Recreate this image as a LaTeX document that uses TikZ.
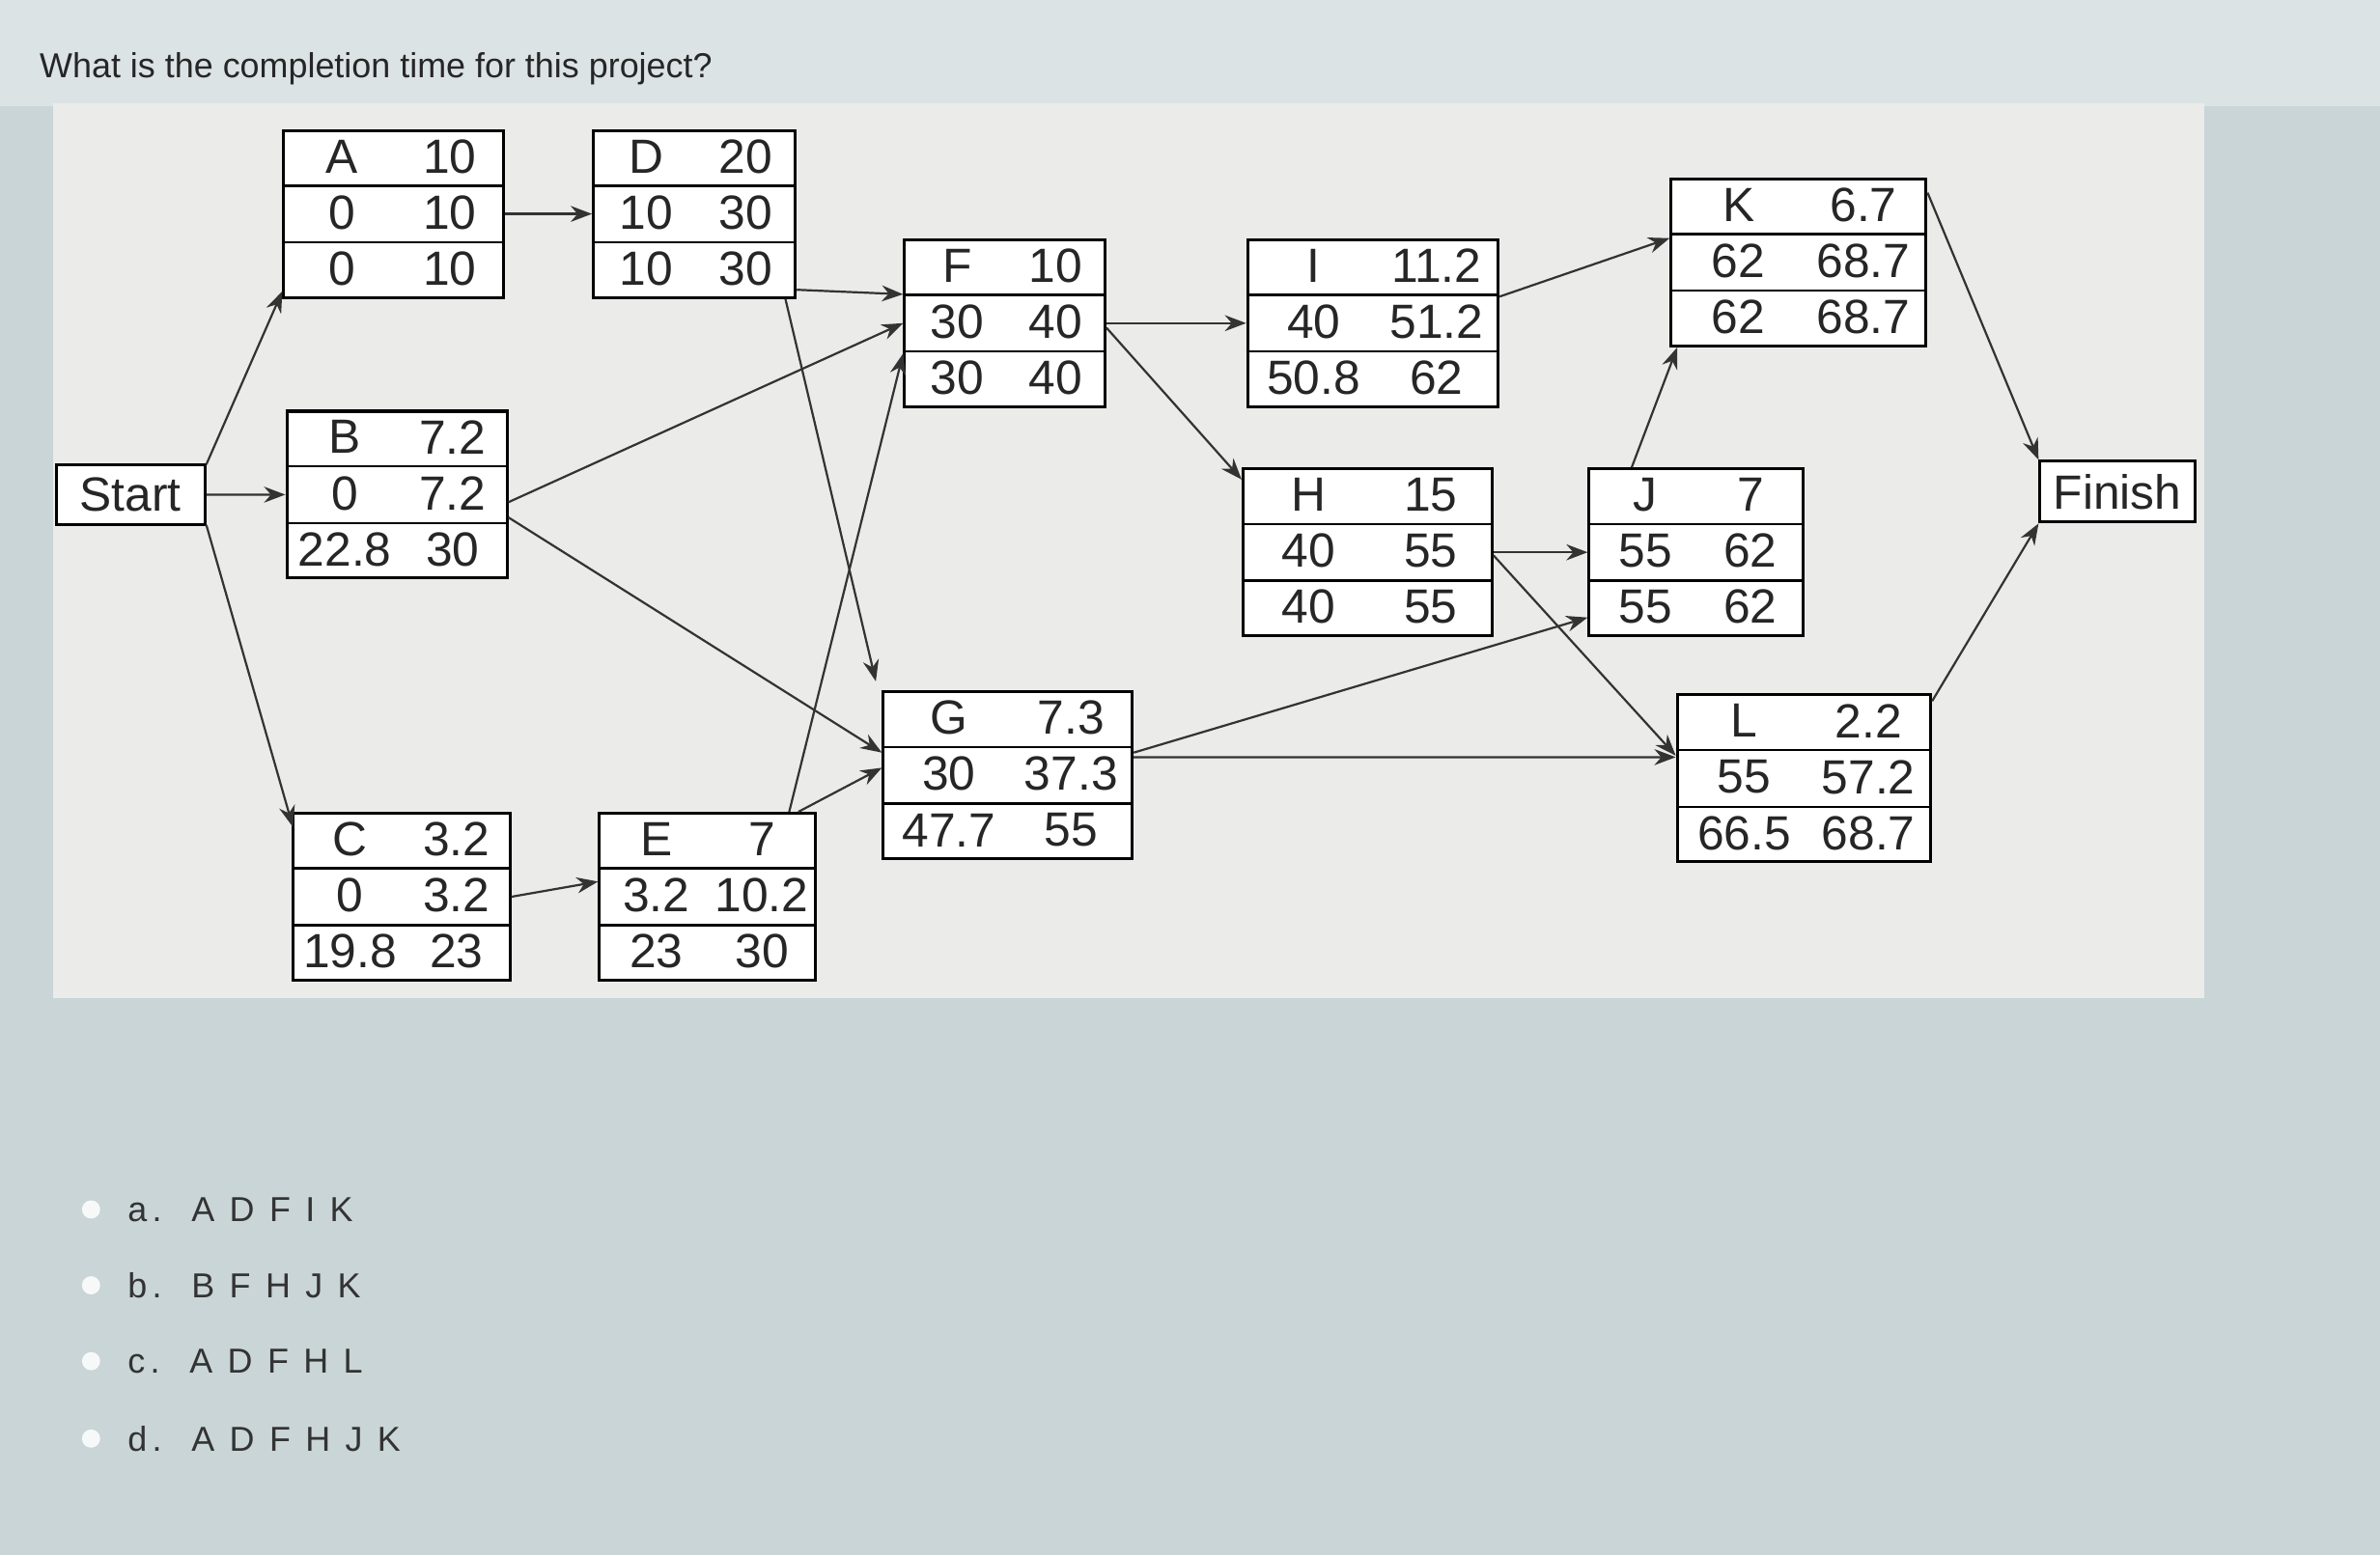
\documentclass[tikz,border=0pt]{standalone}
\usepackage{fontspec}
\setmainfont{Liberation Sans}
\usetikzlibrary{arrows.meta,calc}
\definecolor{bgc}{HTML}{C9D5D7}
\definecolor{topc}{HTML}{DCE3E4}
\definecolor{panel}{HTML}{EBEBEA}
\newcommand{\cpmbox}[8]{%
 \node[box,minimum width={#4*0.02cm}] (#1) at (#2,#3) {};
 \draw[line width=0.9pt] ($(#1.north west)!0.3333!(#1.south west)$) -- ($(#1.north east)!0.3333!(#1.south east)$);
 \draw[line width=0.9pt] ($(#1.north west)!0.6667!(#1.south west)$) -- ($(#1.north east)!0.6667!(#1.south east)$);
 \node[cell] at ($(#1.north west)+(0.27*#4,18)$) {#5};
 \node[cell] at ($(#1.north west)+(0.76*#4,18)$) {#6};
 \node[cell] at ($(#1.north west)+(0.27*#4,55)$) {#7};
 \node[cell] at ($(#1.north west)+(0.76*#4,55)$) {#8};}
\newcommand{\cpmrow}[4]{%
 \node[cell] at ($(#1.north west)+(0.27*#2,92)$) {#3};
 \node[cell] at ($(#1.north west)+(0.76*#2,92)$) {#4};}
\begin{document}
\begin{tikzpicture}[x=0.02cm,y=-0.02cm,
 box/.style={draw,line width=1.1pt,anchor=north west,minimum height=2.2cm,inner sep=0pt,fill=white},
 cell/.style={font=\fontsize{18}{20}\selectfont,text=black!85,inner sep=0pt},
 lbl/.style={draw,line width=1.1pt,fill=white,font=\fontsize{18}{20}\selectfont,text=black!85,inner sep=2pt,minimum height=0.8cm},
 arr/.style={line width=0.8pt,draw=black!80,-{Stealth[length=8pt,width=6pt]}},
 opt/.style={font=\fontsize{13}{14}\selectfont,text=black!80,anchor=west}]
\fill[bgc] (0,0) rectangle (1568,1025);
\fill[topc] (0,0) rectangle (1568,70);
\fill[panel] (35,68) rectangle (1452,658);
\node[anchor=west,font=\fontsize{13}{14}\selectfont,text=black!85] (q) at (20,45) {What is the completion time for this project?};

\cpmbox{A}{186}{85}{145}{A}{10}{0}{10}\cpmrow{A}{145}{0}{10}
\cpmbox{D}{390}{85}{133}{D}{20}{10}{30}\cpmrow{D}{133}{10}{30}
\cpmbox{F}{595}{157}{132}{F}{10}{30}{40}\cpmrow{F}{132}{30}{40}
\cpmbox{I}{821}{157}{165}{I}{11.2}{40}{51.2}\cpmrow{I}{165}{50.8}{62}
\cpmbox{K}{1100}{117}{168}{K}{6.7}{62}{68.7}\cpmrow{K}{168}{62}{68.7}
\cpmbox{B}{188}{270}{145}{B}{7.2}{0}{7.2}\cpmrow{B}{145}{22.8}{30}
\cpmbox{H}{818}{308}{164}{H}{15}{40}{55}\cpmrow{H}{164}{40}{55}
\cpmbox{J}{1046}{308}{141}{J}{7}{55}{62}\cpmrow{J}{141}{55}{62}
\cpmbox{G}{581}{455}{164}{G}{7.3}{30}{37.3}\cpmrow{G}{164}{47.7}{55}
\cpmbox{L}{1104}{457}{167}{L}{2.2}{55}{57.2}\cpmrow{L}{167}{66.5}{68.7}
\cpmbox{C}{192}{535}{143}{C}{3.2}{0}{3.2}\cpmrow{C}{143}{19.8}{23}
\cpmbox{E}{394}{535}{142}{E}{7}{3.2}{10.2}\cpmrow{E}{142}{23}{30}

\node[lbl,minimum width=1.96cm] (S) at (86,326) {Start};
\node[lbl,minimum width=2.04cm] (Fi) at (1395,324) {Finish};

\draw[arr] ([yshift=0.4cm]S.east) -- ([yshift=0.1cm]A.south west);
\draw[arr] (S.east) -- (B.west);
\draw[arr] ([yshift=-0.4cm]S.east) -- ([xshift=0.02cm,yshift=-0.2cm]C.north west);
\draw[arr] (A.east) -- (D.west);
\draw[arr] ([yshift=-1.0cm]D.east) -- ($(F.north west)!0.33!(F.south west)$);
\draw[arr] ([xshift=-0.15cm]D.south east) -- ([xshift=-0.08cm,yshift=0.12cm]G.north west);
\draw[arr] ([yshift=-0.1cm]B.east) -- ($(F.north west)!0.5!(F.south west)$);
\draw[arr] ([yshift=-0.3cm]B.east) -- ([yshift=0.3cm]G.west);
\draw[arr] (C.east) -- ([yshift=0.2cm]E.west);
\draw[arr] ([xshift=-0.36cm]E.north east) -- ([yshift=0.72cm]F.south west);
\draw[arr] ([xshift=-0.24cm]E.north east) -- ([yshift=0.1cm]G.west);
\draw[arr] (F.east) -- (I.west);
\draw[arr] ([yshift=-0.06cm]F.east) -- ([yshift=-0.16cm]H.north west);
\draw[arr] ([yshift=0.35cm]I.east) -- ([yshift=0.32cm]K.west);
\draw[arr] (H.east) -- (J.west);
\draw[arr] ([yshift=-0.04cm]H.east) -- ([yshift=0.3cm]L.west);
\draw[arr] ([yshift=0.3cm]G.east) -- ([yshift=0.26cm]J.south west);
\draw[arr] ([yshift=0.24cm]G.east) -- ([yshift=0.28cm]L.west);
\draw[arr] ([xshift=0.58cm]J.north west) -- ([xshift=0.1cm]K.south west);
\draw[arr] ([yshift=-0.2cm]K.north east) -- (Fi.north west);
\draw[arr] ([yshift=-0.1cm]L.north east) -- (Fi.south west);

\foreach \yy/\tt/\nm in {797/{a.\ \ A D F I K}/oa,847/{b.\ \ B F H J K}/ob,897/{c.\ \ A D F H L}/oc,948/{d.\ \ A D F H J K}/od}{
 \fill[white!85!bgc] (60,\yy) circle (6);
 \node[opt] (\nm) at (78,\yy) {\addfontfeatures{LetterSpace=15}\tt};}
\end{tikzpicture}
\end{document}
